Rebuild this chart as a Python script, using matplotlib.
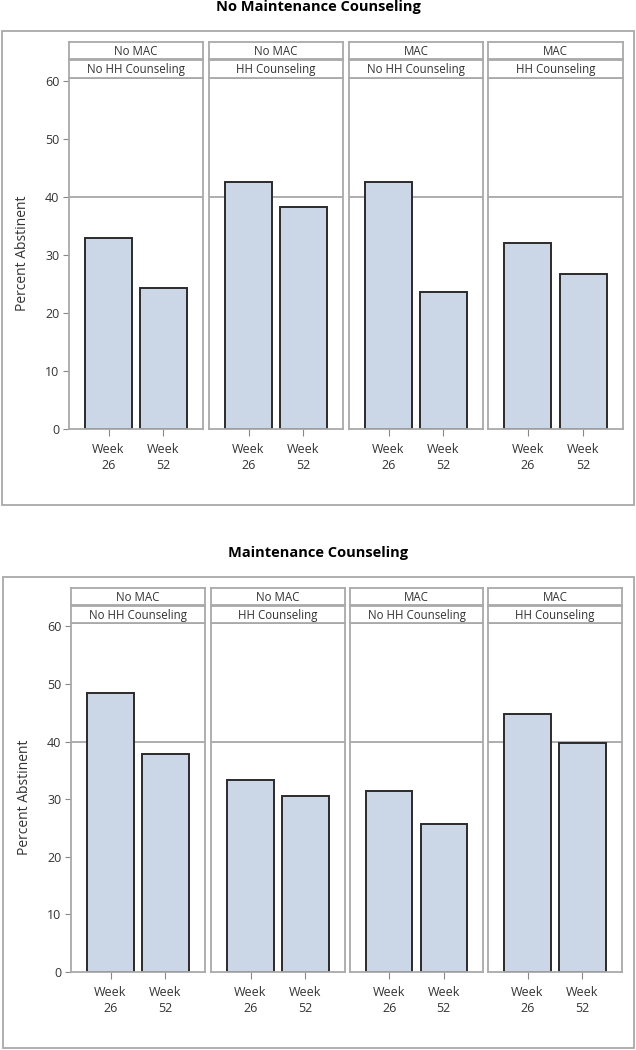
import matplotlib
matplotlib.use("Agg")
import matplotlib.pyplot as plt
from matplotlib.patches import Rectangle

plt.rcParams['font.family'] = ['Open Sans', 'DejaVu Sans']

# ---- data ----
weeks = ["Week\n26", "Week\n52"]
mac_labels = ["No MAC", "No MAC", "MAC", "MAC"]
hh_labels = ["No HH Counseling", "HH Counseling", "No HH Counseling", "HH Counseling"]
titles = ["No Maintenance Counseling", "Maintenance Counseling"]
no_maint = [[32.9, 24.4], [42.7, 38.4], [42.7, 23.6], [32.1, 26.8]]
maint = [[48.5, 37.9], [33.3, 30.5], [31.5, 25.7], [44.8, 39.8]]
yticks = [0, 10, 20, 30, 40, 50, 60]
ref_value = 40

W, H = 636, 1050
fig = plt.figure(figsize=(W / 100, H / 100), dpi=100)

FRAME = "#a9a9a9"
TXT = "#333333"
BAR = "#cbd6e6"
EDGE = "#2b2b2b"


def rect(x0, y0, x1, y1):
    return [x0 / W, 1 - y1 / H, (x1 - x0) / W, (y1 - y0) / H]


groups = [
    dict(data=no_maint, title=titles[0], title_y=7, box=(2, 31, 634, 505),
         xs=[(69, 203), (209, 343), (349, 483), (488, 623)],
         s1=(42, 59), s2=(60, 78), plot=(78, 429)),
    dict(data=maint, title=titles[1], title_y=553, box=(3, 577, 634, 1048),
         xs=[(71, 205), (211, 345), (350, 483), (488, 622)],
         s1=(588, 605), s2=(606, 623), plot=(623, 972)),
]

for g in groups:
    bx = g["box"]
    fig.patches.append(Rectangle((bx[0] / W, 1 - bx[3] / H), (bx[2] - bx[0]) / W,
                                 (bx[3] - bx[1]) / H, transform=fig.transFigure,
                                 fill=False, edgecolor=FRAME, linewidth=1.3))
    fig.text(318 / W, 1 - g["title_y"] / H, g["title"], ha="center", va="center",
             fontsize=10.5, fontweight="bold", color="black")
    for i, (x0, x1) in enumerate(g["xs"]):
        ax = fig.add_axes(rect(x0, g["plot"][0], x1, g["plot"][1]))
        vals = g["data"][i]
        ax.axhline(ref_value, color="#a0a0a0", linewidth=1.2, zorder=0)
        ax.bar(range(len(weeks)), vals, width=0.85, color=BAR, edgecolor=EDGE,
               linewidth=1.4, zorder=2)
        ax.set_xlim(-0.72, 1.72)
        ax.set_ylim(0, 60.6)
        ax.set_xticks(range(len(weeks)))
        ax.set_xticklabels(weeks, fontsize=9, color=TXT, linespacing=1.3)
        ax.tick_params(axis="x", length=5, color="#888888", pad=5)
        for sp in ax.spines.values():
            sp.set_color(FRAME)
            sp.set_linewidth(1.3)
        if i == 0:
            ax.set_yticks(yticks)
            ax.set_yticklabels([str(t) for t in yticks], fontsize=9, color=TXT)
            ax.tick_params(axis="y", length=4, color="#888888", pad=3)
            ax.set_ylabel("Percent Abstinent", fontsize=10, color=TXT, labelpad=11)
        else:
            ax.set_yticks([])
        for (s0, s1e), lab in ((g["s1"], mac_labels[i]), (g["s2"], hh_labels[i])):
            sax = fig.add_axes(rect(x0, s0, x1, s1e))
            sax.set_xticks([])
            sax.set_yticks([])
            for sp in sax.spines.values():
                sp.set_color(FRAME)
                sp.set_linewidth(1.3)
            sax.text(0.5, 0.45, lab, ha="center", va="center", fontsize=8.3,
                     color=TXT, transform=sax.transAxes)

fig.savefig("out.png", dpi=100)
